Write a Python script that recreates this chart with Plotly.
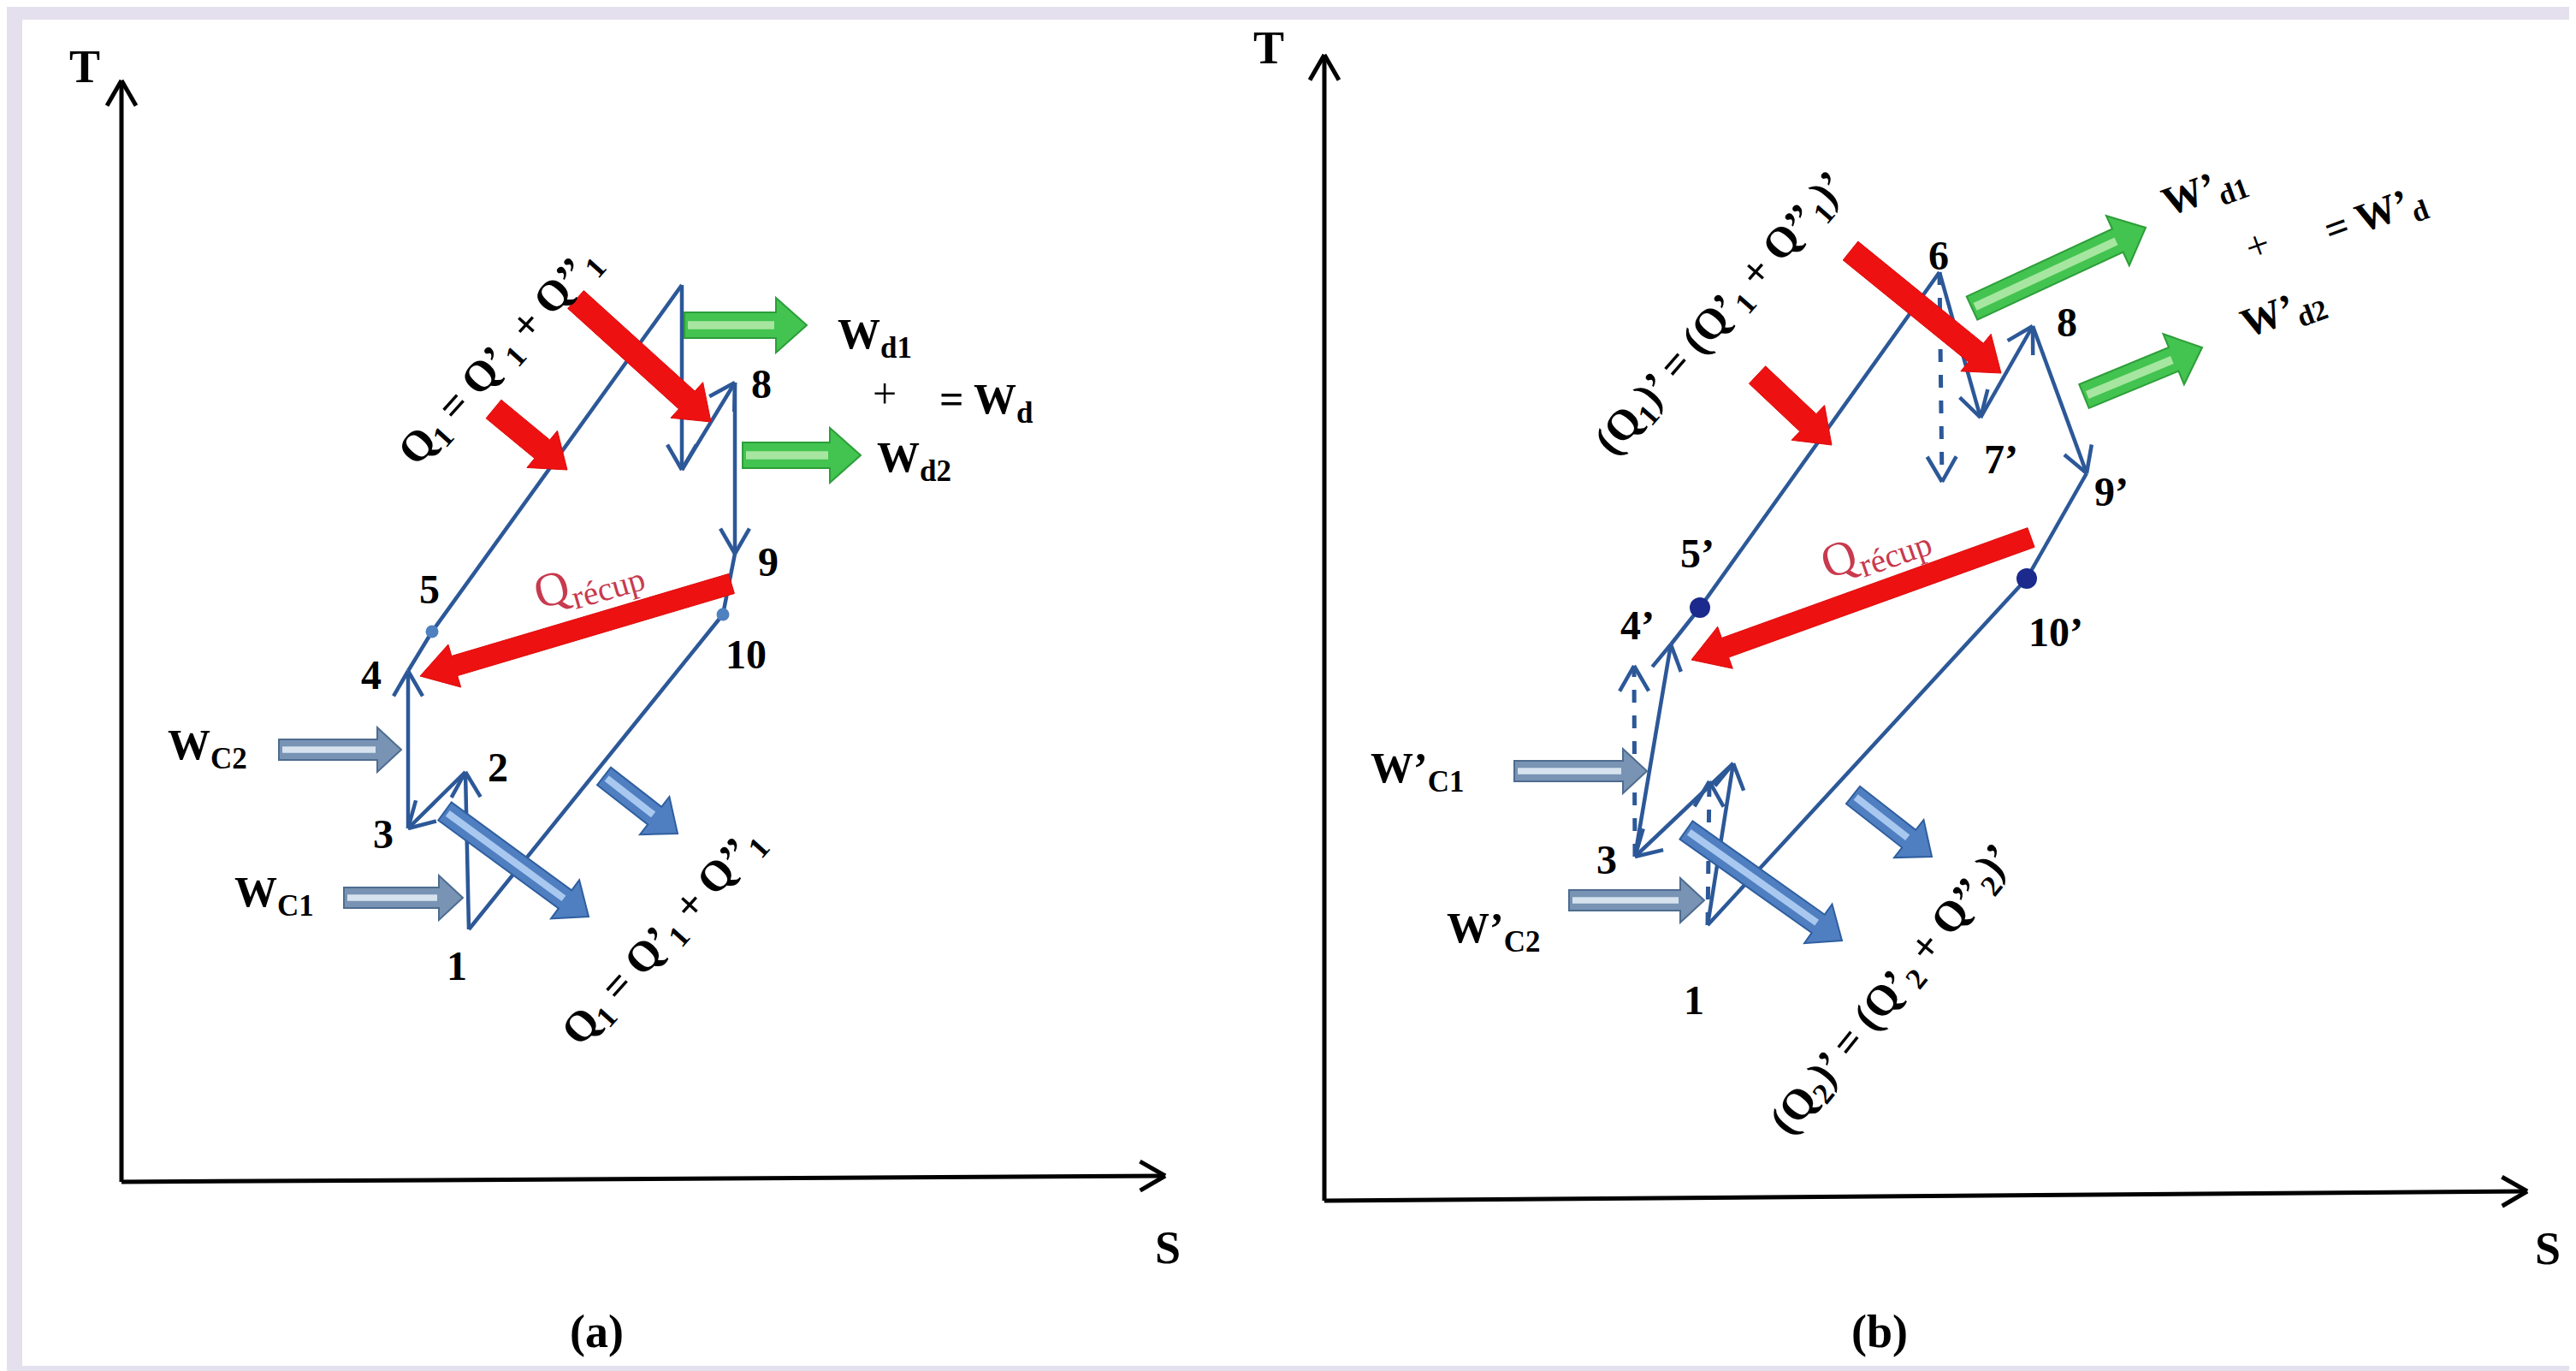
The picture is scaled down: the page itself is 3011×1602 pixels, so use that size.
import math
import plotly.graph_objects as go

W, H = 3011, 1602

# ---------------- Panel (a): state points (S, T in drawing units) ----------------
a_names = ["1", "2", "3", "4", "5", "6", "7", "8", "9", "10"]
a_s = [540, 536, 469, 469, 497, 789, 789, 851, 851, 837]
a_t = [1078, 894, 960, 776, 730, 325, 541, 439, 639, 710]
# segments (from index, to index); arrow heads at the end of these
a_seg_from = [0, 1, 2, 3, 4, 5, 6, 7, 8, 9]
a_seg_to = [1, 2, 3, 4, 5, 6, 7, 8, 9, 0]
a_seg_head = [1, 1, 1, 0, 0, 1, 1, 1, 0, 0]
a_dots = [4, 9]
a_lbl_text = ["1", "2", "3", "4", "5", "8", "9", "10"]
a_lbl_s = [526, 574, 440, 426, 494, 882, 890, 864]
a_lbl_t = [1120, 888, 966, 780, 680, 440, 648, 756]

# ---------------- Panel (b): state points ----------------
b_names = ["1", "2", "2s", "3", "4'", "4s", "5'", "6", "7'", "7s", "8", "9'", "10'"]
b_s = [1988, 2018, 1990, 1903, 1945, 1902, 1979, 2259, 2307, 2262, 2368, 2431, 2361]
b_t = [1073, 884, 905, 993, 745, 770, 702, 310, 480, 555, 373, 545, 668]
b_seg_from = [0, 1, 3, 6, 7, 8, 10, 11, 12, 4]
b_seg_to = [1, 3, 4, 7, 8, 10, 11, 12, 0, 6]
b_seg_head = [1, 1, 1, 0, 1, 1, 1, 0, 0, 0]
b_dash_from = [0, 3, 7]
b_dash_to = [2, 5, 9]
b_dots = [6, 12]
b_lbl_text = ["1", "3", "4’", "5’", "6", "7’", "8", "9’", "10’"]
b_lbl_s = [1972, 1870, 1906, 1976, 2258, 2331, 2408, 2460, 2395]
b_lbl_t = [1160, 996, 722, 638, 290, 528, 368, 566, 730]

# ---------------- Block arrows (tail -> tip) ----------------
heat_in_tail_s = [569, 665, 2046, 2155]
heat_in_tail_t = [470, 342, 430, 285]
heat_in_tip_s = [655, 823, 2133, 2331]
heat_in_tip_t = [541, 485, 512, 428]

recup_tail_s = [847, 2366]
recup_tail_t = [674, 620]
recup_tip_s = [483, 1969]
recup_tip_t = [782, 763]

work_out_tail_s = [792, 860, 2297, 2428]
work_out_tail_t = [372, 524, 352, 455]
work_out_tip_s = [935, 998, 2500, 2566]
work_out_tip_t = [372, 524, 258, 398]

work_in_tail_s = [318, 394, 1762, 1826]
work_in_tail_t = [868, 1041, 893, 1044]
work_in_tip_s = [461, 533, 1917, 1984]
work_in_tip_t = [868, 1041, 893, 1044]

heat_out_tail_s = [512, 698, 1963, 2158]
heat_out_tail_t = [940, 899, 962, 921]
heat_out_tip_s = [680, 784, 2145, 2250]
heat_out_tip_t = [1063, 966, 1091, 993]

# ---------------- Axes of the two T-S diagrams ----------------
axis_s0 = [134, 1540]
axis_t0 = [1373, 1395]
axis_s_end = [1354, 2946]
axis_t_send = [1366, 1384]
axis_t_top = [86, 56]

SERIF = "Liberation Serif"
BLUE = "#2c5898"

fig = go.Figure()
shapes = []
annos = []


def unit(x0, y0, x1, y1):
    dx, dy = x1 - x0, y1 - y0
    L = math.hypot(dx, dy)
    return dx / L, dy / L


def chevron(x0, y0, x1, y1, length=30, ang=28):
    ux, uy = unit(x0, y0, x1, y1)
    xs, ys = [], []
    for sgn in (1, -1):
        a = math.radians(ang) * sgn
        rx = ux * math.cos(a) - uy * math.sin(a)
        ry = ux * math.sin(a) + uy * math.cos(a)
        xs += [x1 - rx * length, x1, None]
        ys += [y1 - ry * length, y1, None]
    return xs, ys


def block_path(x0, y0, x1, y1, w, hw, hl):
    ux, uy = unit(x0, y0, x1, y1)
    px, py = -uy, ux
    bx, by = x1 - ux * hl, y1 - uy * hl
    pts = [
        (x0 + px * w / 2, y0 + py * w / 2),
        (bx + px * w / 2, by + py * w / 2),
        (bx + px * hw / 2, by + py * hw / 2),
        (x1, y1),
        (bx - px * hw / 2, by - py * hw / 2),
        (bx - px * w / 2, by - py * w / 2),
        (x0 - px * w / 2, y0 - py * w / 2),
    ]
    return "M " + " L ".join(f"{x:.1f},{y:.1f}" for x, y in pts) + " Z"


def add_block(ts, tt, hs, ht, w, hw, hl, fill, line, inner=None, lw=2):
    for x0, y0, x1, y1 in zip(ts, tt, hs, ht):
        shapes.append(dict(type="path", path=block_path(x0, y0, x1, y1, w, hw, hl),
                           xref="x", yref="y", fillcolor=fill,
                           line=dict(color=line, width=lw), layer="above"))
        if inner:
            ux, uy = unit(x0, y0, x1, y1)
            ex, ey = x1 - ux * (hl + 2), y1 - uy * (hl + 2)
            sx, sy = x0 + ux * 4, y0 + uy * 4
            shapes.append(dict(type="path",
                               path=block_path(sx, sy, ex + ux * 0.01, ey + uy * 0.01, w * 0.32, w * 0.32, 0.005),
                               xref="x", yref="y", fillcolor=inner,
                               line=dict(width=0), layer="above"))


# background white panel
shapes.append(dict(type="rect", xref="x", yref="y", x0=18, y0=15, x1=3002, y1=1588,
                   fillcolor="white", line=dict(width=0), layer="below"))

# T-S axes
ax_x, ax_y = [], []
for s0, t0, s1, ts1, ttop in zip(axis_s0, axis_t0, axis_s_end, axis_t_send, axis_t_top):
    ax_x += [s0, s0, None, s0, s1, None]
    ax_y += [t0, ttop, None, t0, ts1, None]
    cx, cy = chevron(s0, t0, s0, ttop, 34, 30)
    ax_x += cx
    ax_y += cy
    cx, cy = chevron(s0, t0, s1, ts1, 34, 30)
    ax_x += cx
    ax_y += cy
fig.add_trace(go.Scatter(x=ax_x, y=ax_y, mode="lines", line=dict(color="black", width=5),
                         hoverinfo="skip", showlegend=False))


def cycle_trace(ps, pt, sf, st, sh):
    xs, ys = [], []
    for i, j, h in zip(sf, st, sh):
        xs += [ps[i], ps[j], None]
        ys += [pt[i], pt[j], None]
        if h:
            cx, cy = chevron(ps[i], pt[i], ps[j], pt[j], 34, 30)
            xs += cx
            ys += cy
    return xs, ys


xa, ya = cycle_trace(a_s, a_t, a_seg_from, a_seg_to, a_seg_head)
xb, yb = cycle_trace(b_s, b_t, b_seg_from, b_seg_to, b_seg_head)
fig.add_trace(go.Scatter(x=xa + xb, y=ya + yb, mode="lines", line=dict(color=BLUE, width=4.5),
                         hoverinfo="skip", showlegend=False))
xd, yd = [], []
for i, j in zip(b_dash_from, b_dash_to):
    xd += [b_s[i], b_s[j], None]
    yd += [b_t[i], b_t[j], None]
fig.add_trace(go.Scatter(x=xd, y=yd, mode="lines", line=dict(color=BLUE, width=5, dash="dash"),
                         hoverinfo="skip", showlegend=False))
xh, yh = [], []
for i, j in zip(b_dash_from, b_dash_to):
    cx, cy = chevron(b_s[i], b_t[i], b_s[j], b_t[j], 34, 30)
    xh += cx
    yh += cy
fig.add_trace(go.Scatter(x=xh, y=yh, mode="lines", line=dict(color=BLUE, width=4.5),
                         hoverinfo="skip", showlegend=False))

fig.add_trace(go.Scatter(x=[a_s[i] for i in a_dots], y=[a_t[i] for i in a_dots], mode="markers",
                         marker=dict(size=15, color="#4f80c0"), hoverinfo="skip", showlegend=False))
fig.add_trace(go.Scatter(x=[b_s[i] for i in b_dots], y=[b_t[i] for i in b_dots], mode="markers",
                         marker=dict(size=24, color="#1b2a8c"), hoverinfo="skip", showlegend=False))

# block arrows
add_block(heat_in_tail_s, heat_in_tail_t, heat_in_tip_s, heat_in_tip_t, 28, 56, 38,
          "#ee1111", "#dd0a0a", lw=1)
add_block(recup_tail_s, recup_tail_t, recup_tip_s, recup_tip_t, 24, 52, 42,
          "#ee1111", "#dd0a0a", lw=1)
add_block(work_out_tail_s, work_out_tail_t, work_out_tip_s, work_out_tip_t, 30, 64, 36,
          "#43c34f", "#2d9e3a", inner="#a6e6a0")
add_block(work_in_tail_s, work_in_tail_t, work_in_tip_s, work_in_tip_t, 24, 52, 28,
          "#7893b3", "#4e6c90", inner="#d6e2ee")
add_block(heat_out_tail_s, heat_out_tail_t, heat_out_tip_s, heat_out_tip_t, 26, 56, 34,
          "#4f7fc0", "#2f5f9f", inner="#a9c8f0")


def txt(x, y, text, size=48, color="black", angle=0, bold=True):
    annos.append(dict(x=x, y=y, xref="x", yref="y", text=(f"<b>{text}</b>" if bold else text),
                      showarrow=False, textangle=angle, xanchor="center", yanchor="middle",
                      font=dict(family=SERIF, size=size, color=color)))


for t, x, y in zip(a_lbl_text, a_lbl_s, a_lbl_t):
    txt(x, y, t, 48)
for t, x, y in zip(b_lbl_text, b_lbl_s, b_lbl_t):
    txt(x, y, t, 48)

# axis labels
txt(91, 70, "T", 54)
txt(1357, 1450, "S", 54)
txt(1475, 48, "T", 54)
txt(2970, 1451, "S", 54)
txt(689, 1548, "(a)", 54)
txt(2189, 1548, "(b)", 54)

# work labels panel (a)
txt(1014, 386, "W<sub>d1</sub>", 50)
txt(1026, 452, "+", 50, bold=False)
txt(1145, 462, "= W<sub>d</sub>", 50)
txt(1060, 530, "W<sub>d2</sub>", 50)
txt(234, 866, "W<sub>C2</sub>", 50)
txt(312, 1038, "W<sub>C1</sub>", 50)

# work labels panel (b)
txt(2568, 216, "W’<sub>d1</sub>", 48, angle=-20)
txt(2630, 278, "+", 48, angle=-20, bold=False)
txt(2768, 245, "= W’<sub>d</sub>", 48, angle=-20)
txt(2660, 358, "W’<sub>d2</sub>", 48, angle=-20)
txt(1648, 893, "W’<sub>C1</sub>", 50)
txt(1737, 1080, "W’<sub>C2</sub>", 50)

# heat labels
txt(577, 410, "Q<sub>1</sub> = Q’<sub>1</sub> + Q’’<sub>1</sub>", 50, angle=-48)
txt(768, 1088, "Q<sub>1</sub> = Q’<sub>1</sub> + Q’’<sub>1</sub>", 50, angle=-48)
txt(2005, 360, "(Q<sub>1</sub>)’ = (Q’<sub>1</sub> + Q’’<sub>1</sub>)’", 50, angle=-49)
txt(2205, 1150, "(Q<sub>2</sub>)’ = (Q’<sub>2</sub> + Q’’<sub>2</sub>)’", 50, angle=-51)
txt(679, 672, "Q<sub>récup</sub>", 56, color="#c83a4e", angle=-16, bold=False)
txt(2183, 634, "Q<sub>récup</sub>", 56, color="#c83a4e", angle=-19, bold=False)

fig.update_layout(
    width=W, height=H,
    margin=dict(l=0, r=0, t=0, b=0),
    paper_bgcolor="#e4e0ed",
    plot_bgcolor="rgba(0,0,0,0)",
    xaxis=dict(range=[0, W], visible=False, fixedrange=True),
    yaxis=dict(range=[H, 0], visible=False, fixedrange=True),
    shapes=shapes,
    annotations=annos,
    showlegend=False,
)
fig.write_html("out.html")
